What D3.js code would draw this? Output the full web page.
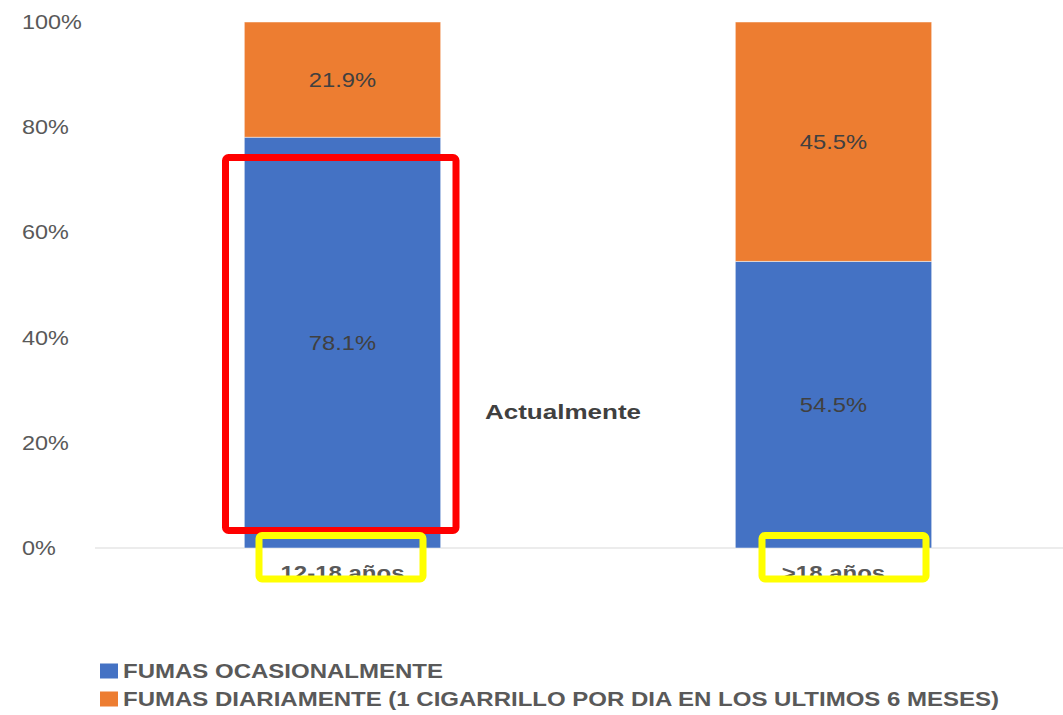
<!DOCTYPE html>
<html>
<head>
<meta charset="utf-8">
<script src="https://cdn.jsdelivr.net/npm/d3@7"></script>
<style>
  body { margin: 0; background: #fff; }
  svg { display: block; font-family: "Liberation Sans", Arial, sans-serif; }
</style>
</head>
<body>
<div id="chart"></div>
<script>
// data
const categories = ["12-18 años", ">18 años"];
const seriesNames = ["FUMAS OCASIONALMENTE", "FUMAS DIARIAMENTE (1 CIGARRILLO POR DIA EN LOS ULTIMOS 6 MESES)"];
const ocasional = [78.1, 54.5];
const diario = [21.9, 45.5];
const yTicks = [0, 20, 40, 60, 80, 100];
const colors = ["#4472C4", "#ED7D31"];

const width = 1063, height = 715;

const svg = d3.select("#chart").append("svg")
    .attr("width", width)
    .attr("height", height);

// the picture is a bit stretched sideways, so text gets widened
function widen(sel, sx) {
    sel.each(function () {
        const len = this.getComputedTextLength();
        d3.select(this).attr("textLength", len * sx).attr("lengthAdjust", "spacingAndGlyphs");
    });
}

const x = d3.scaleBand().domain(categories).range([97, 1079]).paddingInner(0.6).paddingOuter(0.3);
const y = d3.scaleLinear().domain([0, 100]).range([548, 22]);

// stacked data
const rows = categories.map((c, i) => ({ cat: c, ocasional: ocasional[i], diario: diario[i] }));
const stack = d3.stack().keys(["ocasional", "diario"]);
const layers = stack(rows);

// y axis labels
svg.append("g").selectAll("text")
    .data(yTicks)
    .join("text")
    .attr("x", 22)
    .attr("y", d => y(d))
    .attr("dy", "0.36em")
    .attr("font-size", 19.5)
    .attr("fill", "#595959")
    .text(d => d + "%")
    .call(widen, 1.2);

// baseline
svg.append("line")
    .attr("x1", 95).attr("x2", width)
    .attr("y1", y(0)).attr("y2", y(0))
    .attr("stroke", "#d9d9d9")
    .attr("stroke-width", 1.2);

// bars
const gLayers = svg.append("g").selectAll("g")
    .data(layers)
    .join("g")
    .attr("fill", (d, i) => colors[i]);

gLayers.selectAll("rect")
    .data(d => d)
    .join("rect")
    .attr("x", d => x(d.data.cat))
    .attr("width", x.bandwidth())
    .attr("y", d => y(d[1]))
    .attr("height", d => y(d[0]) - y(d[1]))
    .attr("stroke", "#fff")
    .attr("stroke-opacity", 0.6)
    .attr("stroke-width", 0.8);

// value labels
gLayers.selectAll("text")
    .data(d => d)
    .join("text")
    .attr("x", d => x(d.data.cat) + x.bandwidth() / 2)
    .attr("y", d => y((d[0] + d[1]) / 2))
    .attr("dy", "0.36em")
    .attr("text-anchor", "middle")
    .attr("font-size", 21)
    .attr("fill", "#404040")
    .text(d => (d[1] - d[0]).toFixed(1) + "%")
    .call(widen, 1.13);

// category labels, clipped by the highlight boxes
svg.append("defs").append("clipPath").attr("id", "catclip")
    .append("rect").attr("x", 0).attr("y", 0).attr("width", width).attr("height", 583);

svg.append("g").attr("clip-path", "url(#catclip)")
    .selectAll("text")
    .data(categories)
    .join("text")
    .attr("x", d => x(d) + x.bandwidth() / 2)
    .attr("y", 580)
    .attr("text-anchor", "middle")
    .attr("font-size", 20)
    .attr("font-weight", "bold")
    .attr("fill", "#595959")
    .text(d => d)
    .call(widen, 1.2);

// axis title in the middle
svg.append("text")
    .attr("x", 563)
    .attr("y", 412)
    .attr("dy", "0.36em")
    .attr("text-anchor", "middle")
    .attr("font-size", 20)
    .attr("font-weight", "bold")
    .attr("fill", "#404040")
    .text("Actualmente")
    .call(widen, 1.3);

// legend
const legend = svg.append("g").selectAll("g")
    .data(seriesNames)
    .join("g")
    .attr("transform", (d, i) => `translate(100, ${671 + i * 28})`);

legend.append("rect")
    .attr("x", 0).attr("y", -7.5)
    .attr("width", 18).attr("height", 15)
    .attr("fill", (d, i) => colors[i]);

legend.append("text")
    .attr("x", 23)
    .attr("dy", "0.36em")
    .attr("font-size", 20)
    .attr("font-weight", "bold")
    .attr("fill", "#595959")
    .text(d => d)
    .call(widen, 1.2);

// highlight boxes drawn on top
svg.append("rect")
    .attr("x", 225.5).attr("y", 157.5)
    .attr("width", 230.5).attr("height", 373)
    .attr("rx", 3)
    .attr("fill", "none")
    .attr("stroke", "#ff0000")
    .attr("stroke-width", 7);

const boxShift = [-1.5, 10.5];
svg.append("g").selectAll("rect")
    .data(categories)
    .join("rect")
    .attr("x", (d, i) => x(d) + x.bandwidth() / 2 + boxShift[i] - 82)
    .attr("y", 535.5)
    .attr("width", 164)
    .attr("height", 43.5)
    .attr("rx", 3)
    .attr("fill", "none")
    .attr("stroke", "#ffff00")
    .attr("stroke-width", 7);
</script>
</body>
</html>
